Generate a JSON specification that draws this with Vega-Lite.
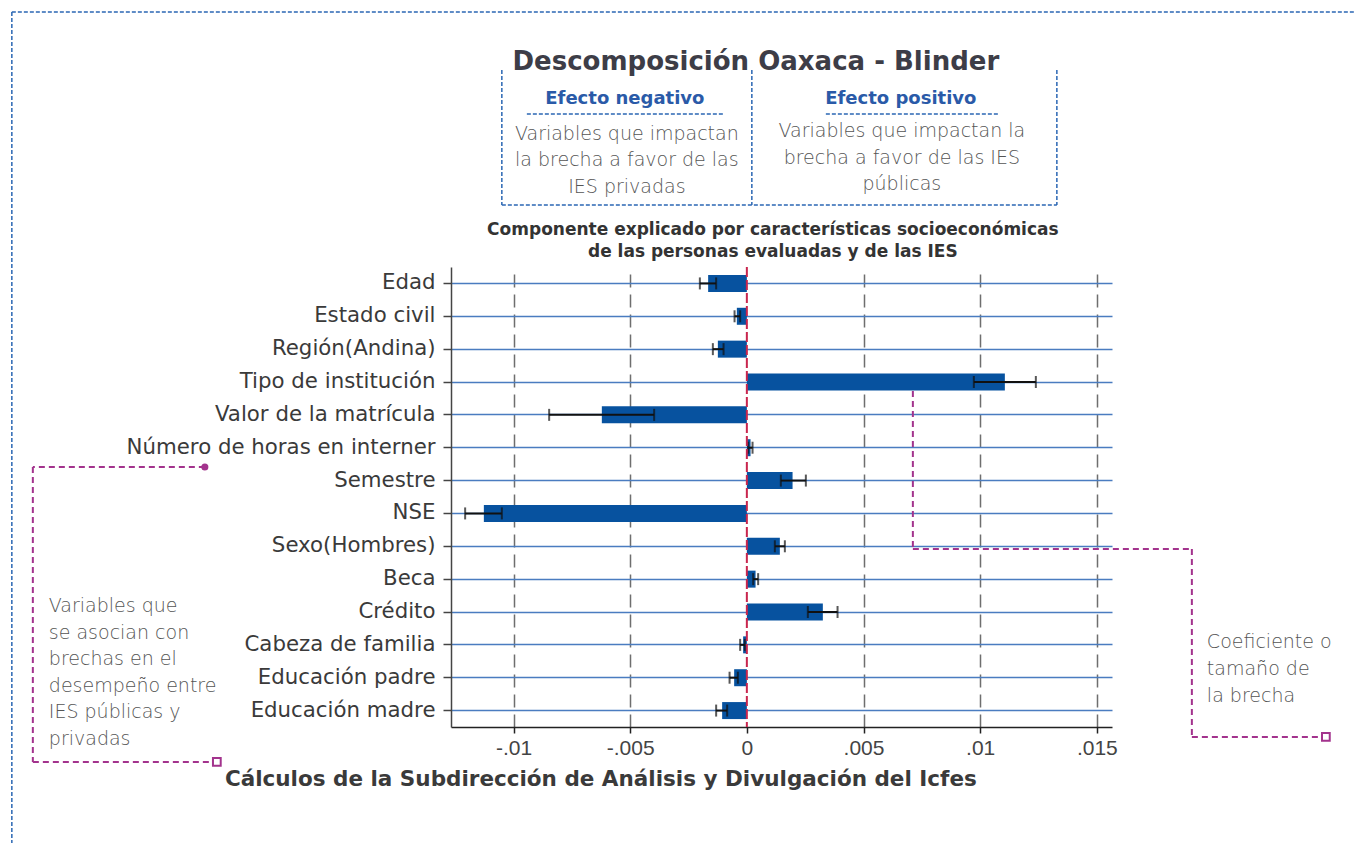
{
  "$schema": "https://vega.github.io/schema/vega-lite/v6.json",
  "width": 661,
  "height": 460,
  "autosize": {"type": "none"},
  "padding": {"left": 451, "top": 267, "right": 243, "bottom": 116},
  "background": "white",
  "config": {"view": {"stroke": null}},
  "datasets": {
    "coef": [
      {"var": "Edad", "coef": -0.001659, "lo": -0.002014, "hi": -0.001316},
      {"var": "Estado civil", "coef": -0.000429, "lo": -0.000527, "hi": -0.000287},
      {"var": "Región(Andina)", "coef": -0.001243, "lo": -0.001457, "hi": -0.000999},
      {"var": "Tipo de institución", "coef": 0.011058, "lo": 0.009729, "hi": 0.012386},
      {"var": "Valor de la matrícula", "coef": -0.006215, "lo": -0.008473, "hi": -0.003973},
      {"var": "Número de horas en interner", "coef": 0.000158, "lo": 0.000056, "hi": 0.000244},
      {"var": "Semestre", "coef": 0.001959, "lo": 0.001457, "hi": 0.002529},
      {"var": "NSE", "coef": -0.011272, "lo": -0.012074, "hi": -0.010501},
      {"var": "Sexo(Hombres)", "coef": 0.001414, "lo": 0.0012, "hi": 0.001629},
      {"var": "Beca", "coef": 0.000373, "lo": 0.00027, "hi": 0.000484},
      {"var": "Crédito", "coef": 0.003257, "lo": 0.002614, "hi": 0.003887},
      {"var": "Cabeza de familia", "coef": -0.000159, "lo": -0.000287, "hi": -0.000086},
      {"var": "Educación padre", "coef": -0.000544, "lo": -0.000741, "hi": -0.000386},
      {"var": "Educación madre", "coef": -0.001059, "lo": -0.001316, "hi": -0.000844}
    ],
    "purple": [
      {"x1": -0.02323, "x2": -0.030602, "y1": 5.587, "y2": 5.587},
      {"x1": -0.030602, "x2": -0.030602, "y1": 5.587, "y2": 14.565},
      {"x1": -0.030602, "x2": -0.022716, "y1": 14.565, "y2": 14.565},
      {"x1": 0.007115, "x2": 0.007115, "y1": 3.274, "y2": 8.083},
      {"x1": 0.007115, "x2": 0.019073, "y1": 8.083, "y2": 8.083},
      {"x1": 0.019073, "x2": 0.019073, "y1": 8.083, "y2": 13.804},
      {"x1": 0.019073, "x2": 0.024816, "y1": 13.804, "y2": 13.804}
    ],
    "blue": [
      {"x1": -0.010501, "x2": -0.010501, "y1": -6.496, "y2": -2.387},
      {"x1": 0.000214, "x2": 0.000214, "y1": -6.496, "y2": -2.387},
      {"x1": 0.013287, "x2": 0.013287, "y1": -6.496, "y2": -2.387},
      {"x1": -0.010501, "x2": 0.013287, "y1": -2.387, "y2": -2.387},
      {"x1": -0.009429, "x2": -0.000986, "y1": -5.157, "y2": -5.157},
      {"x1": 0.003386, "x2": 0.010758, "y1": -5.157, "y2": -5.157},
      {"x1": -0.031502, "x2": 0.026059, "y1": -8.261, "y2": -8.261},
      {"x1": -0.031502, "x2": -0.031502, "y1": -8.261, "y2": 17.031}
    ]
  },
  "layer": [
    {
      "data": {"name": "coef"},
      "layer": [
        {
          "mark": {"type": "bar", "size": 17, "color": "#07529f"},
          "encoding": {
            "y": {
              "field": "var", "type": "nominal", "sort": null,
              "scale": {"paddingInner": 0, "paddingOuter": 0},
              "axis": {
                "title": null, "bandPosition": 0.5, "grid": true,
                "gridColor": "#4a7cc0", "gridWidth": 1.5,
                "domainColor": "#444", "domainWidth": 1.5,
                "tickColor": "#444", "tickSize": 8, "tickWidth": 1.5,
                "labelFont": "DejaVu Sans", "labelFontSize": 21.3, "labelLimit": 0,
                "labelColor": "#3a3a3a", "labelPadding": 8
              }
            },
            "x": {
              "field": "coef", "type": "quantitative",
              "scale": {"domain": [-0.01268, 0.01565], "nice": false, "zero": false},
              "axis": {
                "title": null,
                "values": [-0.01, -0.005, 0, 0.005, 0.01, 0.015],
                "grid": true, "gridDash": [13, 7], "gridWidth": 1.5,
                "gridColor": {"condition": {"test": "datum.value === 0", "value": "transparent"}, "value": "#6e6e6e"},
                "labelExpr": "datum.value === 0 ? '0' : replace(replace(format(datum.value, '.3~f'), '0.', '.'), '\u2212', '-')",
                "labelFont": "Liberation Sans", "labelFontSize": 21, "labelColor": "#444",
                "labelPadding": 4,
                "domainColor": "#222", "domainWidth": 1.5,
                "tickColor": "#222", "tickSize": 6, "tickWidth": 1.5
              }
            },
            "x2": {"datum": 0}
          }
        },
        {
          "mark": {"type": "rule", "color": "#111", "strokeWidth": 2},
          "encoding": {
            "y": {"field": "var", "type": "nominal", "sort": null},
            "x": {"field": "lo", "type": "quantitative", "scale": {"domain": [-0.01268, 0.01565], "nice": false, "zero": false}},
            "x2": {"field": "hi"}
          }
        },
        {
          "mark": {"type": "tick", "color": "#111", "thickness": 2, "size": 12},
          "encoding": {
            "y": {"field": "var", "type": "nominal", "sort": null},
            "x": {"field": "lo", "type": "quantitative", "scale": {"domain": [-0.01268, 0.01565], "nice": false, "zero": false}}
          }
        },
        {
          "mark": {"type": "tick", "color": "#111", "thickness": 2, "size": 12},
          "encoding": {
            "y": {"field": "var", "type": "nominal", "sort": null},
            "x": {"field": "hi", "type": "quantitative", "scale": {"domain": [-0.01268, 0.01565], "nice": false, "zero": false}}
          }
        }
      ]
    },
    {
      "layer": [
        {
          "data": {"values": [{"v": 0, "a": -0.5, "b": 13.5}]},
          "mark": {"type": "rule", "color": "#c8264e", "strokeWidth": 2, "strokeDash": [10, 3]},
          "encoding": {
            "x": {"field": "v", "type": "quantitative", "scale": {"domain": [-0.01268, 0.01565], "nice": false, "zero": false}},
            "y": {"field": "a", "type": "quantitative", "scale": {"domain": [-0.5, 13.5], "reverse": true, "nice": false, "zero": false}, "axis": null},
            "y2": {"field": "b"}
          }
        },
        {
          "data": {"name": "purple"},
          "mark": {"type": "rule", "color": "#a3338d", "strokeWidth": 2, "strokeDash": [6, 4]},
          "encoding": {
            "x": {"field": "x1", "type": "quantitative", "scale": {"domain": [-0.01268, 0.01565], "nice": false, "zero": false}},
            "x2": {"field": "x2"},
            "y": {"field": "y1", "type": "quantitative", "scale": {"domain": [-0.5, 13.5], "reverse": true, "nice": false, "zero": false}, "axis": null},
            "y2": {"field": "y2"}
          }
        },
        {
          "data": {"name": "blue"},
          "mark": {"type": "rule", "color": "#2b67b4", "strokeWidth": 1.5, "strokeDash": [4, 2]},
          "encoding": {
            "x": {"field": "x1", "type": "quantitative", "scale": {"domain": [-0.01268, 0.01565], "nice": false, "zero": false}},
            "x2": {"field": "x2"},
            "y": {"field": "y1", "type": "quantitative", "scale": {"domain": [-0.5, 13.5], "reverse": true, "nice": false, "zero": false}, "axis": null},
            "y2": {"field": "y2"}
          }
        },
        {
          "data": {"values": [{"x": -0.02323, "y": 5.587}]},
          "mark": {"type": "point", "shape": "circle", "filled": true, "color": "#a3338d", "size": 50, "opacity": 1},
          "encoding": {
            "x": {"field": "x", "type": "quantitative", "scale": {"domain": [-0.01268, 0.01565], "nice": false, "zero": false}},
            "y": {"field": "y", "type": "quantitative", "scale": {"domain": [-0.5, 13.5], "reverse": true, "nice": false, "zero": false}, "axis": null}
          }
        },
        {
          "data": {"values": [{"x": -0.022716, "y": 14.565}, {"x": 0.024816, "y": 13.804}]},
          "mark": {"type": "point", "shape": "square", "filled": false, "color": "#a3338d", "fill": "white", "size": 60, "strokeWidth": 2, "opacity": 1},
          "encoding": {
            "x": {"field": "x", "type": "quantitative", "scale": {"domain": [-0.01268, 0.01565], "nice": false, "zero": false}},
            "y": {"field": "y", "type": "quantitative", "scale": {"domain": [-0.5, 13.5], "reverse": true, "nice": false, "zero": false}, "axis": null}
          }
        },
        {
          "data": {"values": [{"x": 0.000386, "y": -6.739, "t": "Descomposición Oaxaca - Blinder"}]},
          "mark": {"type": "text", "font": "DejaVu Sans", "fontWeight": "bold", "fontSize": 26, "color": "#3d3d47", "align": "center", "baseline": "middle"},
          "encoding": {
            "x": {"field": "x", "type": "quantitative", "scale": {"domain": [-0.01268, 0.01565], "nice": false, "zero": false}},
            "y": {"field": "y", "type": "quantitative", "scale": {"domain": [-0.5, 13.5], "reverse": true, "nice": false, "zero": false}, "axis": null},
            "text": {"field": "t"}
          }
        },
        {
          "data": {"values": [
            {"x": -0.005229, "y": -5.613, "t": "Efecto negativo"},
            {"x": 0.0066, "y": -5.613, "t": "Efecto positivo"}
          ]},
          "mark": {"type": "text", "font": "DejaVu Sans", "fontWeight": "bold", "fontSize": 18, "color": "#2a5aa8", "align": "center", "baseline": "middle"},
          "encoding": {
            "x": {"field": "x", "type": "quantitative", "scale": {"domain": [-0.01268, 0.01565], "nice": false, "zero": false}},
            "y": {"field": "y", "type": "quantitative", "scale": {"domain": [-0.5, 13.5], "reverse": true, "nice": false, "zero": false}, "axis": null},
            "text": {"field": "t"}
          }
        },
        {
          "data": {"values": [
            {"x": -0.005143, "y": -4.548, "t": "Variables que impactan"},
            {"x": -0.005143, "y": -3.757, "t": "la brecha a favor de las"},
            {"x": -0.005143, "y": -2.935, "t": "IES privadas"},
            {"x": 0.006643, "y": -4.639, "t": "Variables que impactan la"},
            {"x": 0.006643, "y": -3.817, "t": "brecha a favor de las IES"},
            {"x": 0.006643, "y": -3.026, "t": "públicas"}
          ]},
          "mark": {"type": "text", "font": "DejaVu Sans", "fontWeight": 300, "fontSize": 19, "color": "#555555", "align": "center", "baseline": "middle"},
          "encoding": {
            "x": {"field": "x", "type": "quantitative", "scale": {"domain": [-0.01268, 0.01565], "nice": false, "zero": false}},
            "y": {"field": "y", "type": "quantitative", "scale": {"domain": [-0.5, 13.5], "reverse": true, "nice": false, "zero": false}, "axis": null},
            "text": {"field": "t"}
          }
        },
        {
          "data": {"values": [
            {"x": 0.001114, "y": -1.626, "t": "Componente explicado por características socioeconómicas"},
            {"x": 0.001114, "y": -0.957, "t": "de las personas evaluadas y de las IES"}
          ]},
          "mark": {"type": "text", "font": "DejaVu Sans", "fontWeight": "bold", "fontSize": 17, "color": "#333333", "align": "center", "baseline": "middle"},
          "encoding": {
            "x": {"field": "x", "type": "quantitative", "scale": {"domain": [-0.01268, 0.01565], "nice": false, "zero": false}},
            "y": {"field": "y", "type": "quantitative", "scale": {"domain": [-0.5, 13.5], "reverse": true, "nice": false, "zero": false}, "axis": null},
            "text": {"field": "t"}
          }
        },
        {
          "data": {"values": [
            {"x": -0.006258, "y": 15.113, "t": "Cálculos de la Subdirección de Análisis y Divulgación del Icfes"}
          ]},
          "mark": {"type": "text", "font": "DejaVu Sans", "fontWeight": "bold", "fontSize": 21.5, "color": "#3a3a3a", "align": "center", "baseline": "middle"},
          "encoding": {
            "x": {"field": "x", "type": "quantitative", "scale": {"domain": [-0.01268, 0.01565], "nice": false, "zero": false}},
            "y": {"field": "y", "type": "quantitative", "scale": {"domain": [-0.5, 13.5], "reverse": true, "nice": false, "zero": false}, "axis": null},
            "text": {"field": "t"}
          }
        },
        {
          "data": {"values": [
            {"x": -0.029916, "y": 9.817, "t": "Variables  que"},
            {"x": -0.029916, "y": 10.639, "t": "se asocian con"},
            {"x": -0.029916, "y": 11.431, "t": "brechas en el"},
            {"x": -0.029916, "y": 12.252, "t": "desempeño entre"},
            {"x": -0.029916, "y": 13.043, "t": "IES públicas y"},
            {"x": -0.029916, "y": 13.865, "t": "privadas"},
            {"x": 0.019716, "y": 10.913, "t": "Coeficiente o"},
            {"x": 0.019716, "y": 11.735, "t": "tamaño de"},
            {"x": 0.019716, "y": 12.557, "t": "la brecha"}
          ]},
          "mark": {"type": "text", "font": "DejaVu Sans", "fontWeight": 300, "fontSize": 19, "color": "#555555", "align": "left", "baseline": "middle"},
          "encoding": {
            "x": {"field": "x", "type": "quantitative", "scale": {"domain": [-0.01268, 0.01565], "nice": false, "zero": false}},
            "y": {"field": "y", "type": "quantitative", "scale": {"domain": [-0.5, 13.5], "reverse": true, "nice": false, "zero": false}, "axis": null},
            "text": {"field": "t"}
          }
        }
      ]
    }
  ],
  "resolve": {"scale": {"y": "independent"}}
}
